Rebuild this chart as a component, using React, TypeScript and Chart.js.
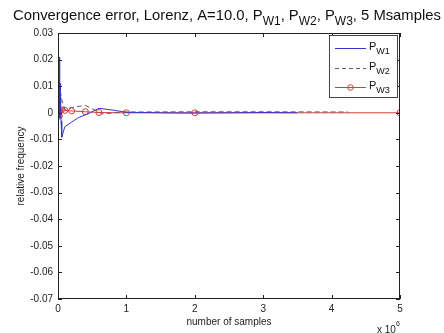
import React, { useEffect, useRef } from "react";
import { Chart, registerables } from "chart.js";

Chart.register(...registerables);

const xTicks = [0, 1e6, 2e6, 3e6, 4e6, 5e6];
const yTicks = [0.03, 0.02, 0.01, 0, -0.01, -0.02, -0.03, -0.04, -0.05, -0.06, -0.07];

const w1X = [5e3, 1.5e4, 2.2e4, 2.6e4, 3e4, 3.4e4, 3.8e4, 4.4e4, 5.5e4, 1e5, 2e5, 3e5, 4.7e5, 6e5, 8e5, 1e6, 1.5e6, 2e6, 2.5e6, 3e6, 3.5e6];
const w1Y = [0.0, 0.002, 0.021, -0.002, 0.011, 0.003, 0.008, -0.003, -0.0092, -0.0052, -0.0035, -0.0018, 0.0, 0.0017, 0.001, 0.0002, 0.0, -0.0001, 0.0, 0.0001, 0.0];

const w2X = [5e3, 1.5e4, 2.5e4, 3e4, 4e4, 6e4, 1e5, 2e5, 4e5, 6.5e5, 1e6, 2e6, 3e6, 4.24e6];
const w2Y = [0.0, -0.002, 0.003, -0.001, 0.0072, 0.0045, 0.0012, 0.002, 0.0028, -0.0004, 0.0003, 0.0004, 0.0004, 0.0003];

const w3X = [1e3, 5e3, 1e4, 2e4, 3e4, 5e4, 1e5, 2e5, 4e5, 6e5, 1e6, 2e6, 5e6];
const w3Y = [0.0042, -0.0008, 0.0005, -0.0012, 0.0008, 0.0011, 0.0009, 0.0007, 0.0004, 0.0001, 0.0, 0.0, 0.0];

const seriesNames = ["W1", "W2", "W3"];
const titleParts: { t: string; sub?: boolean }[] = [
  { t: "Convergence error, Lorenz, A=10.0, P" },
  { t: "W1", sub: true },
  { t: ", P" },
  { t: "W2", sub: true },
  { t: ", P" },
  { t: "W3", sub: true },
  { t: ", 5 Msamples" },
];

const FONT = "'Liberation Sans', Arial, sans-serif";
const BLUE = "#3535cc";
const GRAY = "#606060";
const RED = "#d83a3a";

function drawRich(ctx: CanvasRenderingContext2D, parts: { t: string; sub?: boolean }[], x: number, y: number, size: number, subSize: number, subOff: number) {
  let cx = x;
  ctx.textBaseline = "alphabetic";
  ctx.textAlign = "left";
  for (const p of parts) {
    const s = p.sub ? subSize : size;
    ctx.font = `${s}px ${FONT}`;
    ctx.fillText(p.t, cx, p.sub ? y + subOff : y);
    cx += ctx.measureText(p.t).width;
  }
}

const decorPlugin = {
  id: "decor",
  afterDraw(chart: any) {
    const ctx: CanvasRenderingContext2D = chart.ctx;
    const { left, right, top, bottom } = chart.chartArea;
    const xs = chart.scales.x;
    const ys = chart.scales.y;
    ctx.save();
    ctx.strokeStyle = "#222";
    ctx.lineWidth = 1;
    ctx.strokeRect(left + 0.5, top + 0.5, right - left - 1, bottom - top - 1);
    ctx.beginPath();
    for (const v of xTicks) {
      const px = Math.round(xs.getPixelForValue(v)) + 0.5;
      ctx.moveTo(px, bottom);
      ctx.lineTo(px, bottom - 4);
      ctx.moveTo(px, top);
      ctx.lineTo(px, top + 4);
    }
    for (const v of yTicks) {
      const py = Math.round(ys.getPixelForValue(v)) + 0.5;
      ctx.moveTo(left, py);
      ctx.lineTo(left + 4, py);
      ctx.moveTo(right, py);
      ctx.lineTo(right - 4, py);
    }
    ctx.stroke();

    // title
    ctx.fillStyle = "#111";
    drawRich(ctx, titleParts, 13, 19.5, 14.8, 12, 5.5);

    // axis titles
    ctx.font = `10px ${FONT}`;
    ctx.fillStyle = "#222";
    ctx.textAlign = "center";
    ctx.textBaseline = "middle";
    ctx.fillText("number of samples", (left + right) / 2, 322);
    ctx.save();
    ctx.translate(21, (top + bottom) / 2);
    ctx.rotate(-Math.PI / 2);
    ctx.fillText("relative frequency", 0, 0);
    ctx.restore();
    ctx.textAlign = "left";
    ctx.textBaseline = "alphabetic";
    ctx.font = `10px ${FONT}`;
    ctx.fillText("x 10", 377, 333);
    ctx.font = `7px ${FONT}`;
    ctx.fillText("6", 396, 326);

    // legend
    const lx = 329, ly = 35, lw = 68, lh = 62;
    ctx.fillStyle = "#fff";
    ctx.fillRect(lx, ly, lw, lh);
    ctx.strokeStyle = "#444";
    ctx.strokeRect(lx + 0.5, ly + 0.5, lw, lh);
    const colors = [BLUE, GRAY, RED];
    const rows = [48.5, 68.5, 87.5];
    rows.forEach((ry, i) => {
      ctx.strokeStyle = colors[i];
      ctx.lineWidth = 1;
      ctx.setLineDash(i === 1 ? [4, 3] : []);
      ctx.beginPath();
      ctx.moveTo(335, ry);
      ctx.lineTo(366, ry);
      ctx.stroke();
      ctx.setLineDash([]);
      if (i === 2) {
        ctx.beginPath();
        ctx.arc(350.5, ry, 2.8, 0, Math.PI * 2);
        ctx.stroke();
      }
      ctx.fillStyle = "#111";
      drawRich(ctx, [{ t: "P" }, { t: seriesNames[i], sub: true }], 369, ry + 1, 11, 9, 4);
    });
    ctx.restore();
  },
};

function toPts(xs: number[], ys: number[]) {
  return xs.map((x, i) => ({ x, y: ys[i] }));
}

export default function App() {
  const ref = useRef<HTMLCanvasElement>(null);
  useEffect(() => {
    if (!ref.current) return;
    const chart = new Chart(ref.current, {
      type: "line",
      data: {
        datasets: [
          { label: "PW1", data: toPts(w1X, w1Y), borderColor: BLUE, borderWidth: 1, pointRadius: 0, fill: false, tension: 0 },
          { label: "PW2", data: toPts(w2X, w2Y), borderColor: GRAY, borderWidth: 1, borderDash: [5, 3], pointRadius: 0, fill: false, tension: 0 },
          {
            label: "PW3", data: toPts(w3X, w3Y), borderColor: RED, borderWidth: 1, pointRadius: 3,
            pointBackgroundColor: "rgba(0,0,0,0)", pointBorderColor: RED, pointBorderWidth: 1, fill: false, tension: 0,
          },
        ],
      },
      options: {
        animation: false,
        responsive: false,
        events: [],
        layout: { padding: { top: 33, right: 44, left: 0, bottom: 0 } },
        plugins: { legend: { display: false }, title: { display: false }, tooltip: { enabled: false } },
        scales: {
          x: {
            type: "linear",
            min: 0,
            max: 5e6,
            afterFit: (s: any) => { s.height = 34; },
            afterBuildTicks: (s: any) => { s.ticks = xTicks.map((v) => ({ value: v })); },
            grid: { display: false, drawTicks: false },
            border: { display: false },
            ticks: {
              padding: 4,
              color: "#222",
              font: { family: FONT, size: 10 },
              callback: (v: any) => String(Math.round(Number(v) / 1e6)),
            },
          },
          y: {
            type: "linear",
            min: -0.07,
            max: 0.03,
            afterFit: (s: any) => { s.width = 58; },
            afterBuildTicks: (s: any) => { s.ticks = yTicks.map((v) => ({ value: v })); },
            grid: { display: false, drawTicks: false },
            border: { display: false },
            ticks: {
              padding: 5,
              color: "#222",
              font: { family: FONT, size: 10 },
              callback: (v: any) => (Math.abs(Number(v)) < 1e-9 ? "0" : Number(v).toFixed(2)),
            },
          },
        },
      },
      plugins: [decorPlugin],
    });
    return () => chart.destroy();
  }, []);
  return (
    <div style={{ position: "absolute", left: 0, top: 0, width: 444, height: 333, background: "#fff" }}>
      <canvas ref={ref} width={444} height={333} style={{ display: "block" }} />
    </div>
  );
}
